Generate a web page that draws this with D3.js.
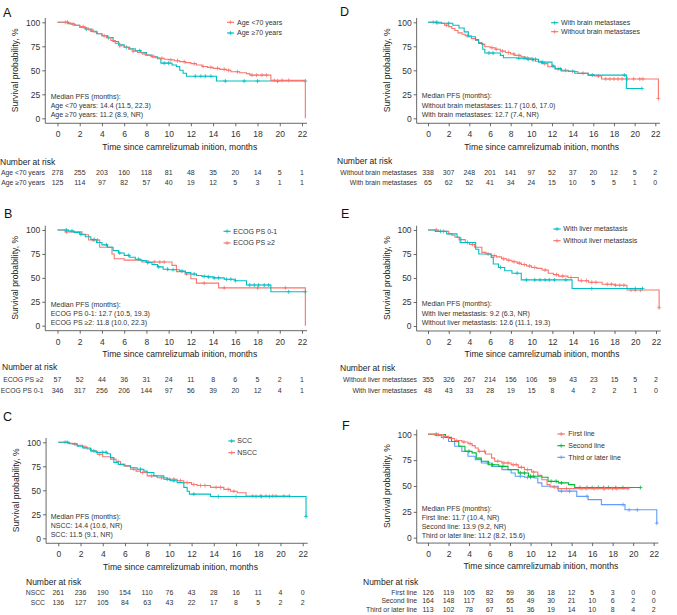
<!DOCTYPE html>
<html><head><meta charset="utf-8">
<script src="https://cdn.jsdelivr.net/npm/d3@7"></script>
<style>
body{margin:0;background:#fff}
svg{display:block}
text{font-family:"Liberation Sans",Arial,Helvetica,sans-serif}
</style>
</head><body>
<svg id="chart" width="677" height="615"></svg>
<script>
const RED = "#F8766D", TEAL = "#00BFC4", GREEN = "#00BA38", BLUE = "#619CFF";

const timeTicks = [0, 2, 4, 6, 8, 10, 12, 14, 16, 18, 20, 22];
const survTicks = [0, 25, 50, 75, 100];
const xTitle = "Time since camrelizumab inition, months";
const yTitle = "Survival probability, %";

// ---------- Panel A: age ----------
const aYoungT = [0, 0.8, 1.2, 1.6, 2.0, 2.4, 2.8, 3.2, 3.6, 4.0, 4.4, 4.8, 5.2, 5.6, 6.0, 6.4, 6.8, 7.2, 7.6, 8.0, 8.4, 8.8, 9.2, 9.6, 10.0, 10.5, 11.0, 11.5, 12.0, 12.5, 13.0, 13.5, 14.0, 14.6, 15.2, 15.6, 16.4, 17.0, 17.3, 19.2, 22.3];
const aYoungS = [100, 99.5, 98, 97, 95.5, 94, 92, 90, 88, 86, 84, 81, 78, 75.5, 74, 72, 70, 68.5, 67, 65.5, 64.5, 63, 62.5, 61.5, 61, 60, 59, 58, 57, 55.5, 54, 53, 52, 51, 50, 48.5, 47.5, 46.5, 45, 39.5, 0];
const aYoungC = [0.7, 1.4, 2.3, 3.1, 4.2, 5.6, 6.8, 7.9, 8.6, 9.4, 10.2, 10.8, 11.4, 12.3, 13.1, 13.8, 14.4, 15.0, 15.4, 16.2, 17.5, 17.9, 18.4, 18.8, 19.5, 20.2, 20.8];
const aOldT = [0, 1.0, 1.5, 2.0, 2.5, 3.0, 3.5, 4.0, 4.5, 5.0, 5.5, 6.0, 6.5, 7.0, 7.5, 8.0, 8.5, 9.0, 9.3, 10.3, 10.7, 11.0, 11.3, 11.6, 14.3, 22.3];
const aOldS = [100, 98.5, 97, 95, 93, 90.5, 88, 86, 84, 80, 76.5, 74, 72.5, 70.5, 68.5, 66, 64, 62, 57.5, 55.5, 54, 50, 47, 43.8, 38.8, 38.8];
const aOldC = [0.9, 2.6, 4.6, 6.2, 7.4, 9.6, 10.0, 12.4, 12.9, 13.3, 13.8, 15.1, 16.8, 18.0, 19.8, 22.3];
const aRiskYoung = [278, 255, 203, 160, 118, 81, 48, 35, 20, 14, 5, 1];
const aRiskOld = [125, 114, 97, 82, 57, 40, 19, 12, 5, 3, 1, 1];

// ---------- Panel B: ECOG ----------
const bLowT = [0, 1.0, 1.5, 2.0, 2.5, 3.0, 3.5, 4.0, 4.5, 5.0, 5.5, 6.0, 6.5, 7.0, 7.5, 8.0, 8.5, 9.0, 9.5, 10.0, 11.0, 11.5, 12.0, 12.5, 13.0, 13.5, 14.0, 15.0, 16.0, 17.0, 19.2, 22.3];
const bLowS = [100, 99, 97.5, 95.5, 93, 90, 87, 84.5, 82, 78.5, 76, 73.5, 71.5, 69.5, 68, 66, 64, 61.5, 59, 58.5, 57, 55.5, 54, 52.5, 51.5, 51, 50, 48.5, 47, 42.5, 35.5, 35.5];
const bLowC = [0.8, 1.3, 2.1, 3.3, 4.4, 5.6, 6.4, 7.3, 8.1, 9.1, 9.9, 10.4, 11.2, 12.3, 13.2, 13.6, 14.1, 14.5, 15.2, 15.6, 16.0, 17.3, 17.7, 18.1, 18.6, 19.0, 20.8, 22.3];
const bHighT = [0, 0.7, 2.2, 2.8, 3.8, 4.9, 5.1, 6.0, 7.6, 10.3, 10.7, 11.5, 12.0, 12.5, 14.5, 22.3];
const bHighS = [100, 98, 95, 89.5, 82, 75, 70, 68.5, 66.5, 63, 56.5, 54, 49, 44.5, 39.5, 0];
const bHighC = [0.8, 3.2, 3.6, 8.2, 8.7, 9.2, 9.6, 11.6, 13.2, 15.0, 18.0, 20.5];
const bRiskHigh = [57, 52, 44, 36, 31, 24, 11, 8, 6, 5, 2, 1];
const bRiskLow = [346, 317, 256, 206, 144, 97, 56, 39, 20, 12, 4, 1];

// ---------- Panel C: histology ----------
const cNsccT = [0, 0.9, 1.3, 1.7, 2.2, 2.6, 3.0, 3.5, 4.0, 4.7, 5.2, 5.6, 6.0, 6.5, 7.0, 7.4, 8.0, 8.9, 9.8, 10.7, 11.3, 12.0, 12.5, 13.7, 14.9, 15.5, 16.1, 16.9, 20.8];
const cNsccS = [100, 99, 98, 97, 95, 93, 91, 87.5, 85, 82.5, 80, 77, 75, 72, 70, 68.5, 65, 63, 61.5, 60, 58, 56, 55, 53, 51, 49, 47.5, 44, 44];
const cNsccC = [0.6, 1.5, 2.4, 3.7, 5.4, 6.8, 7.6, 8.4, 9.3, 10.0, 10.4, 11.0, 11.6, 12.2, 12.8, 13.2, 14.2, 14.6, 15.3, 15.8, 17.5, 18.2, 18.7, 19.3, 19.6, 20.3, 20.8];
const cSccT = [0, 1.0, 1.7, 2.2, 2.9, 3.4, 4.4, 4.7, 5.0, 5.4, 5.9, 6.5, 7.1, 7.7, 8.0, 8.6, 9.5, 10.1, 10.7, 11.3, 11.6, 11.8, 13.7, 22.3];
const cSccS = [100, 98.5, 96, 94, 91, 89.5, 88, 84, 79, 77, 75.5, 73.5, 72, 70, 68.5, 65, 61.5, 60, 58, 53, 49, 46, 43.5, 22.6];
const cSccC = [0.8, 3.2, 4.0, 4.3, 7.4, 9.8, 10.4, 12.2, 14.4, 16.0, 17.8, 18.3, 19.0, 22.3];
const cRiskNscc = [261, 236, 190, 154, 110, 76, 43, 28, 16, 11, 4, 0];
const cRiskScc = [136, 127, 105, 84, 63, 43, 22, 17, 8, 5, 2, 2];

// ---------- Panel D: brain metastases ----------
const dWithT = [0, 1.3, 2.4, 3.0, 3.5, 3.9, 4.6, 4.9, 5.3, 5.5, 7.0, 7.3, 8.6, 9.5, 10.7, 12.0, 12.3, 12.9, 14.2, 15.5, 19.2, 20.7];
const dWithS = [100, 99, 97, 94, 90, 85, 82, 78, 72, 68, 65.5, 63, 62.5, 61.5, 58.5, 54.5, 51.5, 49.3, 47, 45, 31, 31];
const dWithC = [0.8, 2.0, 5.9, 6.3, 8.8, 9.3, 9.7, 10.1, 10.4, 11.1, 12.1, 12.8, 15.9, 19.0, 20.7];
const dWithoutT = [0, 0.7, 1.0, 1.6, 2.0, 2.3, 2.6, 2.9, 3.3, 3.6, 4.2, 4.6, 4.9, 5.2, 5.5, 6.0, 6.5, 7.0, 7.5, 8.0, 8.4, 9.0, 9.4, 10.0, 10.4, 11.0, 11.6, 12.3, 12.9, 13.6, 14.5, 15.5, 16.1, 16.8, 22.3];
const dWithoutS = [100, 99.5, 99, 97, 95.5, 93.5, 91.5, 89, 87.5, 86, 83, 81, 79, 77, 74.5, 73.5, 72, 70, 68.5, 67, 65.5, 64, 62.7, 61, 59.5, 57, 53.7, 51.7, 50, 48.8, 47, 45, 44, 41, 20.5];
const dWithoutC = [0.5, 0.9, 1.8, 3.8, 6.2, 6.6, 7.2, 7.8, 8.3, 8.8, 9.6, 10.2, 11.3, 12.6, 13.3, 14.0, 15.0, 16.5, 17.2, 17.6, 18.0, 18.4, 18.8, 19.3, 19.9, 20.5, 20.8, 22.3];
const dRiskWithout = [338, 307, 248, 201, 141, 97, 52, 37, 20, 12, 5, 2];
const dRiskWith = [65, 62, 52, 41, 34, 24, 15, 10, 5, 5, 1, 0];

// ---------- Panel E: liver metastasis ----------
const eWithT = [0, 0.7, 1.8, 2.8, 3.1, 4.6, 4.9, 6.1, 6.3, 6.8, 7.4, 8.1, 9.0, 13.9, 20.7];
const eWithS = [100, 98.6, 96, 92.4, 87, 80, 75, 71.5, 64.6, 61, 57.6, 55, 48, 39, 39];
const eWithC = [1.2, 3.8, 7.0, 8.6, 9.5, 10.3, 10.8, 11.3, 11.7, 12.2, 13.3, 15.8, 20.0, 20.7];
const eWithoutT = [0, 1.0, 2.0, 2.3, 2.6, 3.0, 3.6, 4.0, 4.5, 5.2, 5.6, 6.1, 6.6, 7.1, 7.6, 8.1, 8.6, 9.0, 9.5, 10.0, 10.5, 11.0, 11.6, 12.1, 12.6, 13.5, 14.5, 15.5, 16.8, 18.0, 19.2, 22.3];
const eWithoutS = [100, 98.6, 96, 94.5, 92.4, 90, 87, 85, 82, 76.7, 75, 73.3, 72, 70, 68.5, 67, 65.5, 64, 62.5, 61, 60, 58.3, 55, 53.5, 52, 50.5, 47.2, 45.5, 43.5, 42.5, 37.5, 19];
const eWithoutC = [0.8, 1.5, 3.2, 4.3, 5.8, 6.4, 7.3, 7.8, 8.3, 8.8, 9.3, 9.8, 10.3, 11.3, 12.4, 13.0, 13.8, 14.8, 15.3, 15.8, 16.2, 17.3, 17.7, 18.1, 18.5, 18.9, 19.6, 20.0, 20.5, 22.3];
const eRiskWithout = [355, 326, 267, 214, 156, 106, 59, 43, 23, 15, 5, 2];
const eRiskWith = [48, 43, 33, 28, 19, 15, 8, 4, 2, 2, 1, 0];

// ---------- Panel F: line of therapy ----------
const fFirstT = [0, 0.7, 1.5, 2.0, 2.6, 3.3, 3.9, 4.3, 4.6, 4.9, 5.6, 6.2, 6.5, 7.2, 8.1, 8.8, 9.4, 10.1, 10.7, 11.1, 11.6, 11.9, 12.6, 19.5];
const fFirstS = [100, 99.7, 98, 96, 94, 92.6, 91, 89, 86.8, 83.5, 81, 77, 74, 72.3, 70.6, 68, 65.8, 63.5, 60.3, 56, 51.3, 49, 47.5, 47.5];
const fFirstC = [1.0, 2.8, 3.5, 4.1, 5.0, 5.5, 6.8, 7.4, 7.8, 8.3, 8.6, 9.1, 9.7, 10.3, 12.3, 13.5, 15.0, 15.4, 16.2, 17.2, 18.0, 18.4, 19.5];
const fSecondT = [0, 1.0, 1.7, 2.3, 3.0, 3.6, 4.3, 4.7, 5.2, 5.9, 6.9, 7.8, 8.8, 9.8, 11.1, 11.7, 12.7, 13.7, 14.3, 20.7];
const fSecondS = [100, 99.7, 97, 93, 88.4, 83.5, 82, 77, 74, 70.6, 69, 65.8, 62.6, 59.4, 58.4, 54.5, 53, 51.3, 48.5, 48.5];
const fSecondC = [0.8, 4.0, 6.3, 7.3, 9.0, 9.4, 10.0, 10.3, 12.0, 12.5, 13.0, 14.8, 15.5, 16.0, 16.6, 17.1, 17.6, 18.3, 19.0, 20.7];
const fThirdT = [0, 0.7, 1.3, 2.0, 2.6, 3.3, 3.9, 4.6, 5.2, 6.2, 7.2, 8.1, 8.5, 9.4, 10.4, 10.7, 11.1, 12.7, 14.5, 15.6, 16.9, 19.2, 22.3];
const fThirdS = [100, 99, 97, 93, 88.4, 83.5, 78.7, 75.5, 72.3, 69, 65.8, 62.6, 59.4, 58.4, 57.7, 53, 49.7, 45, 40, 36.8, 32, 27, 14];
const fThirdC = [1.5, 5.8, 9.0, 9.7, 10.0, 13.0, 13.8, 15.5, 19.0, 19.6, 20.4, 22.3];
const fRiskFirst = [126, 119, 105, 82, 59, 36, 18, 12, 5, 3, 0, 0];
const fRiskSecond = [164, 148, 117, 93, 65, 49, 30, 21, 10, 6, 2, 0];
const fRiskThird = [113, 102, 78, 67, 51, 36, 19, 14, 10, 8, 4, 2];

// ---------- panel definitions (layout options) ----------
const panels = [
  { letter: "A", lx: 3, ly: 17, x0: 57.5, x22: 302, y100: 22.3, y0: 118.3,
    series: [
      { name: "Age <70 years", color: RED, T: aYoungT, S: aYoungS, C: aYoungC },
      { name: "Age \u226570 years", color: TEAL, T: aOldT, S: aOldS, C: aOldC } ],
    legend: { k1: 227, k2: 234, tx: 237, ys: [22.3, 33] },
    median: { x: 50.7, ys: [97, 106, 115], lines: ["Median PFS (months):", "Age <70 years: 14.4 (11.5, 22.3)", "Age \u226570 years: 11.2 (8.9, NR)"] },
    risk: { tx: 0, ty: 161.7, lx: 45, ys: [172.7, 183],
      rows: [["Age <70 years", aRiskYoung], ["Age \u226570 years", aRiskOld]] } },
  { letter: "B", lx: 4, ly: 218, x0: 57.5, x22: 302, y100: 230, y0: 325.7,
    series: [
      { name: "ECOG PS 0-1", color: TEAL, T: bLowT, S: bLowS, C: bLowC },
      { name: "ECOG PS \u22652", color: RED, T: bHighT, S: bHighS, C: bHighC } ],
    legend: { k1: 223.5, k2: 230.7, tx: 233.3, ys: [231.3, 243] },
    median: { x: 50.7, ys: [305, 313.5, 322.5], lines: ["Median PFS (months):", "ECOG PS 0-1: 12.7 (10.5, 19.3)", "ECOG PS \u22652: 11.8 (10.0, 22.3)"] },
    risk: { tx: 2, ty: 367.3, lx: 43.5, ys: [380, 390.7],
      rows: [["ECOG PS \u22652", bRiskHigh], ["ECOG PS 0-1", bRiskLow]] } },
  { letter: "C", lx: 3, ly: 421, x0: 58.3, x22: 302.7, y100: 442.3, y0: 538.3,
    series: [
      { name: "SCC", color: TEAL, T: cSccT, S: cSccS, C: cSccC },
      { name: "NSCC", color: RED, T: cNsccT, S: cNsccS, C: cNsccC } ],
    legend: { k1: 228.3, k2: 235, tx: 237.3, ys: [441, 452.7] },
    median: { x: 50.7, ys: [517, 526, 535], lines: ["Median PFS (months):", "NSCC: 14.4 (10.6, NR)", "SCC: 11.5 (9.1, NR)"] },
    risk: { tx: 26, ty: 581.7, lx: 45, ys: [592.7, 602.7],
      rows: [["NSCC", cRiskNscc], ["SCC", cRiskScc]] } },
  { letter: "D", lx: 340, ly: 16, x0: 428, x22: 655.3, y100: 22.3, y0: 118.3,
    series: [
      { name: "With brain metastases", color: TEAL, T: dWithT, S: dWithS, C: dWithC },
      { name: "Without brain metastases", color: RED, T: dWithoutT, S: dWithoutS, C: dWithoutC } ],
    legend: { k1: 551, k2: 558.3, tx: 561, ys: [22.7, 31.7] },
    median: { x: 421.7, ys: [96, 105.3, 114.3], lines: ["Median PFS (months):", "Without brain metastases: 11.7 (10.6, 17.0)", "With brain metastases: 12.7 (7.4, NR)"] },
    risk: { tx: 337, ty: 160.7, lx: 417, ys: [172.7, 183],
      rows: [["Without brain metastases", dRiskWithout], ["With brain metastases", dRiskWith]] } },
  { letter: "E", lx: 341, ly: 218, x0: 428, x22: 656, y100: 230, y0: 326,
    series: [
      { name: "With liver metastasis", color: TEAL, T: eWithT, S: eWithS, C: eWithC },
      { name: "Without liver metastasis", color: RED, T: eWithoutT, S: eWithoutS, C: eWithoutC } ],
    legend: { k1: 553.3, k2: 560.7, tx: 563.3, ys: [229, 240.7] },
    median: { x: 421.7, ys: [304, 313.3, 322.3], lines: ["Median PFS (months):", "With liver metastasis: 9.2 (6.3, NR)", "Without liver metastasis: 12.6 (11.1, 19.3)"] },
    risk: { tx: 340, ty: 368.3, lx: 417, ys: [380, 390.7],
      rows: [["Without liver metastases", eRiskWithout], ["With liver metastases", eRiskWith]] } },
  { letter: "F", lx: 342, ly: 430, x0: 428, x22: 653.7, y100: 434.3, y0: 537.7,
    series: [
      { name: "First line", color: RED, T: fFirstT, S: fFirstS, C: fFirstC },
      { name: "Second line", color: GREEN, T: fSecondT, S: fSecondS, C: fSecondC },
      { name: "Third or later line", color: BLUE, T: fThirdT, S: fThirdS, C: fThirdC } ],
    legend: { k1: 557.3, k2: 565, tx: 568.3, ys: [434, 445.7, 457.3] },
    median: { x: 421.7, ys: [509, 518, 527, 535.7], lines: ["Median PFS (months):", "First line: 11.7 (10.4, NR)", "Second line: 13.9 (9.2, NR)", "Third or later line: 11.2 (8.2, 15.6)"] },
    risk: { tx: 363, ty: 581.7, lx: 417, ys: [592.7, 601, 609.3],
      rows: [["First line", fRiskFirst], ["Second line", fRiskSecond], ["Third or later line", fRiskThird]] } }
];

const svg = d3.select("#chart");
const AX = "#444", TXT = "#333";
const plus = "M-2,0H2M0,-2V2";

panels.forEach(p => {
  const g = svg.append("g");
  const x = d3.scaleLinear().domain([0, 22]).range([p.x0, p.x22]);
  const y = d3.scaleLinear().domain([0, 100]).range([p.y0, p.y100]);
  const axY = y(-5.2), axX = x(-1.1);

  g.append("text").attr("x", p.lx).attr("y", p.ly).attr("font-size", 12.5).attr("fill", "#111").text(p.letter);

  const xa = g.append("g").attr("transform", `translate(0,${axY})`)
    .call(d3.axisBottom(x).tickValues(timeTicks).tickSize(3).tickPadding(5).tickFormat(d3.format("d")));
  xa.select(".domain").remove();
  xa.selectAll("line").attr("stroke", AX).attr("stroke-width", 0.8);
  xa.selectAll("text").attr("font-size", 8.5).attr("fill", TXT).attr("font-family", null);
  const ya = g.append("g").attr("transform", `translate(${axX},0)`)
    .call(d3.axisLeft(y).tickValues(survTicks).tickSize(3).tickPadding(2));
  ya.select(".domain").remove();
  ya.selectAll("line").attr("stroke", AX).attr("stroke-width", 0.8);
  ya.selectAll("text").attr("font-size", 8.5).attr("fill", TXT).attr("font-family", null);
  g.append("line").attr("x1", axX).attr("x2", x(22.45)).attr("y1", axY).attr("y2", axY).attr("stroke", AX).attr("stroke-width", 0.8);
  g.append("line").attr("x1", axX).attr("x2", axX).attr("y1", y(104.5)).attr("y2", axY).attr("stroke", AX).attr("stroke-width", 0.8);

  g.append("text").attr("x", (p.x0 + p.x22) / 2).attr("y", axY + 26.3).attr("text-anchor", "middle")
    .attr("font-size", 8.6).attr("fill", "#222").text(xTitle);
  g.append("text").attr("transform", `translate(${axX - 27},${(p.y0 + p.y100) / 2}) rotate(-90)`)
    .attr("text-anchor", "middle").attr("font-size", 8.6).attr("fill", "#222").text(yTitle);

  const line = d3.line().x(d => x(d[0])).y(d => y(d[1])).curve(d3.curveStepAfter);
  p.series.slice().reverse().forEach(s => {
    const pts = s.T.map((t, i) => [t, s.S[i]]);
    g.append("path").attr("d", line(pts)).attr("fill", "none").attr("stroke", s.color).attr("stroke-width", 1.1);
    const cg = g.append("g");
    s.C.forEach(t => {
      const i = d3.bisectRight(s.T, t) - 1;
      cg.append("path").attr("d", plus).attr("transform", `translate(${x(t)},${y(s.S[Math.max(0, i)])})`)
        .attr("stroke", s.color).attr("stroke-width", 0.8).attr("fill", "none");
    });
  });

  p.series.forEach((s, i) => {
    const ly = p.legend.ys[i];
    g.append("line").attr("x1", p.legend.k1).attr("x2", p.legend.k2).attr("y1", ly).attr("y2", ly)
      .attr("stroke", s.color).attr("stroke-width", 1.1);
    g.append("path").attr("d", plus).attr("transform", `translate(${(p.legend.k1 + p.legend.k2) / 2},${ly})`)
      .attr("stroke", s.color).attr("stroke-width", 0.8);
    g.append("text").attr("x", p.legend.tx).attr("y", ly).attr("dy", "0.35em").attr("font-size", 7)
      .attr("fill", TXT).text(s.name);
  });

  p.median.lines.forEach((t, i) => {
    g.append("text").attr("x", p.median.x).attr("y", p.median.ys[i]).attr("dy", "0.35em")
      .attr("font-size", 7).attr("fill", TXT).text(t);
  });

  g.append("text").attr("x", p.risk.tx).attr("y", p.risk.ty).attr("dy", "0.35em").attr("font-size", 8.5)
    .attr("fill", "#222").text("Number at risk");
  p.risk.rows.forEach((r, i) => {
    const ry = p.risk.ys[i];
    g.append("text").attr("x", p.risk.lx).attr("y", ry).attr("dy", "0.35em").attr("text-anchor", "end")
      .attr("font-size", 6.8).attr("fill", TXT).text(r[0]);
    r[1].forEach((v, j) => {
      g.append("text").attr("x", x(timeTicks[j])).attr("y", ry).attr("dy", "0.35em").attr("text-anchor", "middle")
        .attr("font-size", 7).attr("fill", TXT).text(v);
    });
  });
});
</script>
</body></html>
